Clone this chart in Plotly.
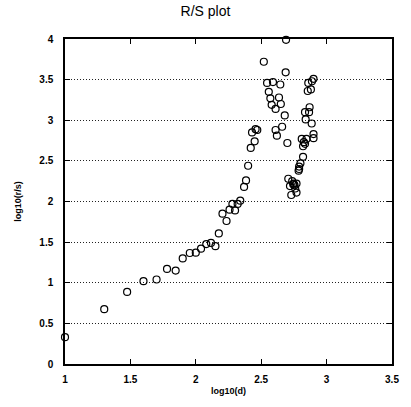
import plotly.graph_objects as go

# log10(d) and log10(r/s) values
log_d = [1.00, 1.30, 1.475, 1.60, 1.70, 1.78, 1.846, 1.90, 1.954, 2.00, 2.04, 2.08, 2.116, 2.15,
         2.176, 2.204, 2.235, 2.258, 2.30, 2.28, 2.32, 2.34,
         2.369, 2.384, 2.40, 2.42, 2.45, 2.43, 2.457, 2.47,
         2.52, 2.69, 2.687, 2.545, 2.59, 2.646, 2.558, 2.57, 2.636, 2.58, 2.65, 2.61, 2.68,
         2.66, 2.61, 2.62, 2.70,
         2.90, 2.888, 2.86, 2.88, 2.856, 2.87, 2.835, 2.866, 2.84, 2.886, 2.90, 2.90,
         2.81, 2.846, 2.826, 2.835, 2.82, 2.82, 2.80, 2.79, 2.79, 2.786,
         2.707, 2.737, 2.72, 2.748, 2.77, 2.755, 2.77, 2.73, 2.76, 2.745]
log_rs = [0.33, 0.675, 0.887, 1.02, 1.04, 1.17, 1.15, 1.30, 1.366, 1.37, 1.42, 1.476, 1.49, 1.45,
          1.607, 1.85, 1.76, 1.90, 1.89, 1.97, 1.97, 2.01,
          2.18, 2.26, 2.44, 2.66, 2.74, 2.85, 2.89, 2.88,
          3.72, 3.99, 3.59, 3.46, 3.47, 3.44, 3.35, 3.27, 3.28, 3.19, 3.20, 3.14, 3.06,
          2.92, 2.88, 2.81, 2.72,
          3.51, 3.48, 3.46, 3.38, 3.36, 3.16, 3.10, 3.10, 3.01, 2.96, 2.83, 2.78,
          2.77, 2.77, 2.73, 2.71, 2.68, 2.55, 2.47, 2.43, 2.40, 2.38,
          2.28, 2.25, 2.19, 2.22, 2.22, 2.20, 2.11, 2.08, 2.16, 2.21]

x_ticks = [1, 1.5, 2, 2.5, 3, 3.5]
x_tick_labels = ["1", "1.5", "2", "2.5", "3", "3.5"]
y_ticks = [0, 0.5, 1, 1.5, 2, 2.5, 3, 3.5, 4]
y_tick_labels = ["0", "0.5", "1", "1.5", "2", "2.5", "3", "3.5", "4"]

fig = go.Figure()
fig.add_trace(go.Scatter(
    x=log_d, y=log_rs, mode="markers",
    marker=dict(symbol="circle-open", size=7, color="black", line=dict(width=1.2, color="black")),
    cliponaxis=False, showlegend=False,
))

fig.update_layout(
    width=411, height=407,
    margin=dict(l=65, r=15, t=39, b=42),
    paper_bgcolor="white", plot_bgcolor="white",
    font=dict(family="Liberation Sans, Arial", color="black"),
    title=dict(text="R/S plot", x=0.5, xanchor="center", y=0.985, yanchor="top",
               font=dict(size=14, color="black")),
)
fig.update_xaxes(
    range=[1, 3.5], tickvals=x_ticks, ticktext=["<b>%s</b>" % t for t in x_tick_labels],
    tickfont=dict(size=10), ticks="inside", ticklen=5, tickcolor="black", tickwidth=1.2,
    ticklabelstandoff=5,
    showline=True, linecolor="black", linewidth=1.5, mirror="ticks",
    showgrid=False, zeroline=False,
    title=dict(text="<b>log10(d)</b>", font=dict(size=9), standoff=4),
)
fig.update_yaxes(
    range=[0, 4], tickvals=y_ticks, ticktext=["<b>%s</b>" % t for t in y_tick_labels],
    tickfont=dict(size=10), ticks="inside", ticklen=5, tickcolor="black", tickwidth=1.2,
    ticklabelstandoff=8,
    showline=True, linecolor="black", linewidth=1.5, mirror="ticks",
    showgrid=True, gridcolor="#222", griddash="1px,2px", gridwidth=1,
    zeroline=False,
    title=dict(text="<b>log10(r/s)</b>", font=dict(size=9), standoff=16),
)

fig.write_html("out.html", config={"displayModeBar": False},
               post_script="document.body.style.margin='0';document.body.style.padding='0';")
